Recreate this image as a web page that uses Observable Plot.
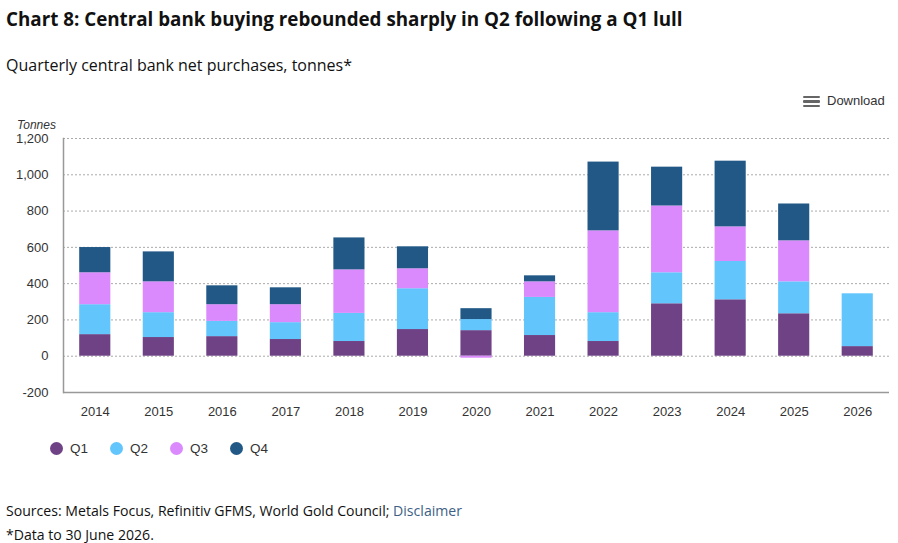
<!DOCTYPE html>
<html>
<head>
<meta charset="utf-8">
<script src="https://cdn.jsdelivr.net/npm/d3@7"></script>
<script src="https://cdn.jsdelivr.net/npm/@observablehq/plot@0.6"></script>
<style>
  body { margin: 0; background: #fff; }
  #wrap { position: relative; width: 898px; height: 543px; overflow: hidden; font-family: "Open Sans", sans-serif; color: #111; }
  .abs { position: absolute; white-space: nowrap; }
  #title { left: 6px; top: 6px; font-size: 18.8px; font-weight: 700; }
  #subtitle { left: 6px; top: 54px; font-size: 16px; }
  #unit { left: 17px; top: 118px; font-family: "Liberation Sans", Arial, sans-serif; font-style: italic; font-size: 12px; color: #333; }
  #download { left: 803px; top: 93px; font-family: "Liberation Sans", Arial, sans-serif; font-size: 13px; color: #333; }
  #download .ic { display: inline-block; width: 17px; vertical-align: middle; margin-right: 7px; }
  #download .ic span { display: block; height: 2.5px; background: #666; margin: 2px 0; border-radius: 1px; }
  #chart { position: absolute; left: 0; top: 115px; }
  #legend { left: 50px; top: 441px; font-family: "Liberation Sans", Arial, sans-serif; font-size: 13.5px; color: #333; }
  #legend .item { display: inline-block; margin-right: 22px; }
  #legend .dot { display: inline-block; width: 13px; height: 13px; border-radius: 50%; vertical-align: -2px; margin-right: 7px; }
  #src { left: 6px; top: 501px; font-size: 14.1px; }
  #src a { color: #3d5f85; text-decoration: none; }
  #note { left: 6px; top: 525px; font-size: 14.1px; }
</style>
</head>
<body>
<div id="wrap">
  <div class="abs" id="title">Chart 8: Central bank buying rebounded sharply in Q2 following a Q1 lull</div>
  <div class="abs" id="subtitle">Quarterly central bank net purchases, tonnes*</div>
  <div class="abs" id="download"><span class="ic"><span></span><span></span><span></span></span>Download</div>
  <div class="abs" id="unit">Tonnes</div>
  <div id="chart"></div>
  <div class="abs" id="legend"></div>
  <div class="abs" id="src">Sources: Metals Focus, Refinitiv GFMS, World Gold Council; <a href="#">Disclaimer</a></div>
  <div class="abs" id="note">*Data to 30 June 2026.</div>
</div>
<script>
const years = ["2014","2015","2016","2017","2018","2019","2020","2021","2022","2023","2024","2025","2026"];
const quarters = ["Q1","Q2","Q3","Q4"];
const q1 = [119, 103, 108, 92, 81, 147, 141, 114, 81, 289, 311, 234, 53];
const q2 = [165, 137, 84, 93, 155, 225, 61, 210, 159, 171, 211, 176, 291];
const q3 = [176, 170, 92, 99, 240, 110, -11, 86, 451, 368, 191, 226, null];
const q4 = [139, 165, 104, 93, 176, 121, 60, 33, 379, 214, 362, 203, null];
const colors = ["#6f4286", "#62c6fd", "#da8afd", "#215885"];
const yTicks = [-200, 0, 200, 400, 600, 800, 1000, 1200];

const series = [q1, q2, q3, q4];
const data = [];
quarters.forEach((q, qi) => {
  years.forEach((yr, i) => {
    const v = series[qi][i];
    if (v != null) data.push({year: yr, quarter: q, value: v});
  });
});

const chart = Plot.plot({
  width: 898,
  height: 310,
  marginLeft: 63,
  marginRight: 9,
  marginTop: 23,
  marginBottom: 33,
  style: {fontFamily: "'Liberation Sans', Arial, sans-serif", fontSize: "13px", color: "#333", background: "transparent"},
  x: {domain: years, paddingInner: 0.51, paddingOuter: 0.255, round: false, label: null},
  y: {domain: [-200, 1200], label: null},
  color: {domain: quarters, range: colors},
  marks: [
    Plot.gridY(yTicks.filter(d => d > -200), {stroke: "#aaa", strokeOpacity: 1, strokeDasharray: "2,2"}),
    Plot.barY(data, {x: "year", y: "value", fill: "quarter", order: quarters}),
    Plot.ruleY([-200], {stroke: "#999", strokeWidth: 1.5}),
    Plot.frame({anchor: "left", stroke: "#999", strokeWidth: 1.5}),
    Plot.axisY({ticks: yTicks, tickSize: 0, tickPadding: 15, tickFormat: d => d.toLocaleString("en-US"), label: null, fontSize: 13}),
    Plot.axisX({tickSize: 0, tickPadding: 14, label: null, fontSize: 13})
  ]
});
document.getElementById("chart").appendChild(chart);

const legend = document.getElementById("legend");
quarters.forEach((q, i) => {
  const it = document.createElement("span");
  it.className = "item";
  it.innerHTML = `<span class="dot" style="background:${colors[i]}"></span>${q}`;
  legend.appendChild(it);
});
</script>
</body>
</html>
